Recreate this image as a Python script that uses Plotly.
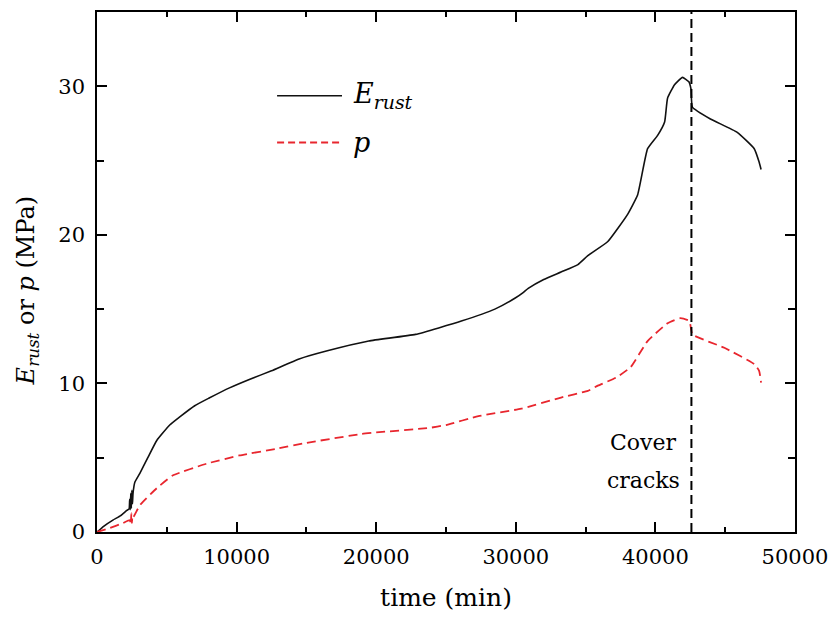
import plotly.graph_objects as go

# ---- data ----
t_E = [0, 500, 1140, 1700, 2140, 2300, 2340, 2380, 2420, 2460, 2500, 2540, 2580,
       2710, 3070, 3640, 4280, 5210, 6000, 7000, 8000, 9490, 11000, 12500, 14480,
       16500, 19470, 22820, 26100, 28500, 29960, 30500, 30890, 32000, 33240, 34450,
       35160, 36590, 38020, 38730, 39440, 40160, 40660, 40870, 41370, 41940, 42400,
       42550, 42650, 43940, 45860, 47080, 47430, 47570]
E_rust = [0, 0.4, 0.8, 1.1, 1.45, 1.55, 2.2, 1.5, 2.6, 1.6, 2.8, 1.9, 2.6,
          3.35, 3.95, 5.0, 6.16, 7.2, 7.8, 8.5, 9.0, 9.7, 10.3, 10.85, 11.65,
          12.2, 12.86, 13.3, 14.2, 15.0, 15.75, 16.1, 16.4, 17.0, 17.5, 18.0,
          18.6, 19.55, 21.4, 22.7, 25.8, 26.7, 27.6, 29.2, 30.1, 30.6, 30.3,
          29.8, 28.6, 27.8, 26.9, 25.8, 24.9, 24.4]

t_p = [0, 930, 1850, 2350, 2420, 2460, 2500, 2540, 2600, 3070, 4280, 5420, 7850,
       10200, 12840, 15000, 18970, 20000, 23750, 25000, 27320, 30390, 33240, 35160,
       35880, 37200, 38230, 39440, 40870, 41800, 42440, 42650, 44940, 47080, 47430, 47570]
p = [0, 0.27, 0.6, 0.8, 0.5, 1.25, 0.6, 1.1, 1.0, 1.8, 2.95, 3.8, 4.6,
     5.15, 5.6, 6.0, 6.6, 6.7, 7.0, 7.2, 7.8, 8.3, 9.05, 9.5,
     9.85, 10.4, 11.1, 12.85, 14.05, 14.4, 14.2, 13.3, 12.4, 11.3, 10.85, 10.05]

crack_time = 42580
x_ticks = [0, 10000, 20000, 30000, 40000, 50000]
y_ticks = [0, 10, 20, 30]

FONT = "DejaVu Serif"
RED = "#e8262e"

fig = go.Figure()
fig.add_trace(go.Scatter(x=t_E, y=E_rust, mode="lines", line_shape="spline",
                         line=dict(color="#111111", width=1.6, smoothing=0.4), showlegend=False))
fig.add_trace(go.Scatter(x=t_p, y=p, mode="lines", line_shape="spline",
                         line=dict(color=RED, width=1.8, dash="9px,5px", smoothing=0.4),
                         showlegend=False))

# vertical dashed line: cover cracks
fig.add_shape(type="line", xref="x", yref="paper", x0=crack_time, x1=crack_time,
              y0=0, y1=1, line=dict(color="black", width=2, dash="9px,5px"), layer="above")

fig.add_annotation(x=39160, y=6.0, xref="x", yref="y", text="Cover", showarrow=False,
                   font=dict(family=FONT, size=22, color="black"), xanchor="center", yanchor="middle")
fig.add_annotation(x=39160, y=3.5, xref="x", yref="y", text="cracks", showarrow=False,
                   font=dict(family=FONT, size=22, color="black"), xanchor="center", yanchor="middle")

# custom legend
fig.add_shape(type="line", xref="paper", yref="paper", x0=0.258, x1=0.351, y0=0.839, y1=0.839,
              line=dict(color="#111111", width=1.6))
fig.add_shape(type="line", xref="paper", yref="paper", x0=0.258, x1=0.351, y0=0.749, y1=0.749,
              line=dict(color=RED, width=1.8, dash="7px,4px"))
fig.add_annotation(x=0.364, y=0.839, xref="paper", yref="paper",
                   text="<i>E<sub>rust</sub></i>", showarrow=False,
                   font=dict(family=FONT, size=27, color="black"), xanchor="left", yanchor="middle")
fig.add_annotation(x=0.364, y=0.749, xref="paper", yref="paper",
                   text="<i>p</i>", showarrow=False,
                   font=dict(family=FONT, size=27, color="black"), xanchor="left", yanchor="middle")

# y-axis title
fig.add_annotation(x=-0.1, y=0.465, xref="paper", yref="paper",
                   text="<i>E<sub>rust</sub></i> or <i>p</i> (MPa)", textangle=-90,
                   showarrow=False, font=dict(family=FONT, size=24, color="black"),
                   xanchor="center", yanchor="middle")

axis_common = dict(showline=True, linecolor="black", linewidth=1.6, mirror="ticks",
                   ticks="inside", ticklen=10, tickwidth=1.5, tickcolor="black",
                   showgrid=False, zeroline=False,
                   tickfont=dict(family=FONT, size=21, color="black"))

fig.update_xaxes(range=[0, 50000], tickvals=x_ticks, ticktext=[str(v) for v in x_ticks],
                 minor=dict(ticks="inside", ticklen=5, tickwidth=1.5, tickcolor="black", dtick=5000),
                 title=dict(text="time (min)", font=dict(family=FONT, size=25, color="black"),
                            standoff=20),
                 ticklabelstandoff=5, **axis_common)
fig.update_yaxes(range=[0, 35], tickvals=y_ticks, ticktext=[str(v) for v in y_ticks],
                 minor=dict(ticks="inside", ticklen=7, tickwidth=1.5, tickcolor="black", dtick=5),
                 ticklabelstandoff=6, **axis_common)

fig.update_layout(width=838, height=628, plot_bgcolor="white", paper_bgcolor="white",
                  font=dict(family=FONT),
                  margin=dict(l=97, r=40, t=10, b=96), showlegend=False)

fig.write_html("out.html")
